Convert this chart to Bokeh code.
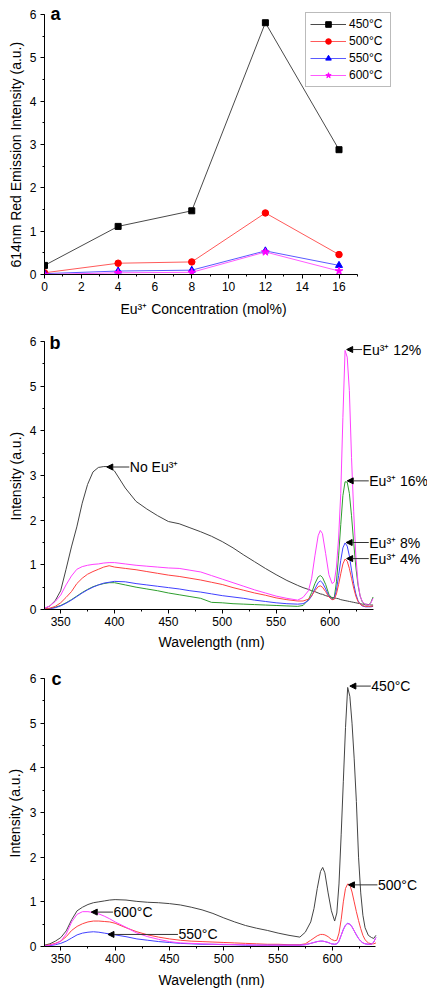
from bokeh.plotting import figure
from bokeh.layouts import column
from bokeh.models import (Range1d, SingleIntervalTicker, Legend, LegendItem,
                          Label, Arrow, NormalHead, Title)
from bokeh.embed import file_html
from bokeh.resources import INLINE

FONT = "Liberation Sans"

# ---------------- Panel a data ----------------
CONC = [0, 4, 8, 12, 16]
I450 = [0.21, 1.11, 1.47, 5.81, 2.88]
I500 = [0.04, 0.26, 0.29, 1.42, 0.46]
I550 = [0.02, 0.08, 0.10, 0.545, 0.21]
I600 = [0.00, 0.04, 0.05, 0.52, 0.08]
TEMPS = ["450°C", "500°C", "550°C", "600°C"]

# ---------------- Panel b / c shared wavelength grid ----------------
WL = [335, 340, 345, 350, 355, 360, 365, 370, 375, 380, 385, 390, 395, 400,
      410, 420, 430, 440, 450, 460, 470, 480, 490, 500, 510, 520, 530, 540,
      550, 560, 570, 575, 580, 583, 586, 589, 591, 593, 596, 599, 602, 604,
      606, 608, 610, 612, 614, 616, 618, 620, 622, 624, 626, 628, 630, 633,
      636, 638, 640]

# Panel b: Eu3+ concentration series
B_NO = [0.02, 0.08, 0.20, 0.42, 0.90, 1.40, 1.85, 2.38, 2.80, 3.08, 3.18, 3.20, 3.20, 3.10,
        2.72, 2.42, 2.25, 2.10, 1.97, 1.92, 1.83, 1.74, 1.64, 1.52, 1.38, 1.22, 1.07, 0.92,
        0.78, 0.65, 0.54, 0.49, 0.45, 0.42, 0.40, 0.37, 0.35, 0.34, 0.31, 0.29, 0.27, 0.26,
        0.25, 0.24, 0.22, 0.21, 0.20, 0.19, 0.18, 0.17, 0.16, 0.15, 0.14, 0.13, 0.12, 0.12,
        0.11, 0.10, 0.10]
B_12 = [0.03, 0.08, 0.18, 0.32, 0.55, 0.75, 0.90, 0.96, 0.99, 1.01, 1.02, 1.04, 1.05, 1.05,
        1.02, 0.99, 0.97, 0.95, 0.93, 0.92, 0.88, 0.84, 0.76, 0.68, 0.60, 0.52, 0.44, 0.37,
        0.30, 0.25, 0.21, 0.27, 0.42, 0.70, 1.20, 1.65, 1.77, 1.70, 1.25, 0.78, 0.58, 0.62,
        0.95, 1.60, 2.60, 4.30, 5.80, 5.65, 4.90, 3.40, 2.20, 1.20, 0.60, 0.30, 0.18, 0.11,
        0.10, 0.15, 0.25]
B_4 = [0.01, 0.03, 0.07, 0.15, 0.27, 0.40, 0.58, 0.70, 0.79, 0.85, 0.90, 0.95, 0.98, 0.95,
       0.92, 0.89, 0.85, 0.81, 0.77, 0.74, 0.70, 0.66, 0.61, 0.56, 0.49, 0.43, 0.37, 0.32,
       0.26, 0.22, 0.19, 0.19, 0.23, 0.31, 0.42, 0.51, 0.53, 0.50, 0.40, 0.28, 0.22, 0.23,
       0.35, 0.56, 0.80, 1.02, 1.13, 1.08, 0.92, 0.70, 0.48, 0.30, 0.18, 0.12, 0.09, 0.07,
       0.07, 0.07, 0.08]
B_8 = [0.01, 0.02, 0.04, 0.08, 0.14, 0.21, 0.29, 0.37, 0.44, 0.50, 0.55, 0.59, 0.61, 0.63,
       0.62, 0.58, 0.55, 0.52, 0.49, 0.46, 0.42, 0.39, 0.35, 0.31, 0.28, 0.25, 0.21, 0.18,
       0.15, 0.13, 0.12, 0.13, 0.20, 0.30, 0.46, 0.60, 0.64, 0.60, 0.46, 0.30, 0.22, 0.24,
       0.44, 0.76, 1.10, 1.38, 1.49, 1.42, 1.20, 0.88, 0.58, 0.35, 0.20, 0.12, 0.08, 0.06,
       0.06, 0.06, 0.07]
B_16 = [0.01, 0.02, 0.05, 0.09, 0.15, 0.22, 0.30, 0.38, 0.45, 0.51, 0.55, 0.58, 0.60, 0.60,
        0.55, 0.50, 0.46, 0.42, 0.37, 0.33, 0.29, 0.25, 0.16, 0.15, 0.13, 0.12, 0.11, 0.10,
        0.09, 0.08, 0.07, 0.09, 0.22, 0.38, 0.58, 0.73, 0.76, 0.72, 0.56, 0.34, 0.24, 0.27,
        0.62, 1.20, 1.90, 2.55, 2.86, 2.85, 2.60, 2.10, 1.50, 0.95, 0.55, 0.30, 0.17, 0.10,
        0.10, 0.16, 0.28]

# Panel c: annealing temperature series
C_450 = [0.03, 0.06, 0.12, 0.20, 0.35, 0.60, 0.80, 0.88, 0.94, 0.98, 1.00, 1.02, 1.04, 1.05,
         1.04, 1.01, 0.99, 0.98, 0.96, 0.93, 0.88, 0.82, 0.74, 0.64, 0.55, 0.47, 0.41, 0.36,
         0.30, 0.25, 0.21, 0.32, 0.55, 0.85, 1.30, 1.68, 1.77, 1.65, 1.20, 0.80, 0.57, 0.75,
         1.40, 2.50, 3.70, 4.90, 5.80, 5.60, 5.00, 4.20, 3.25, 2.00, 1.20, 0.70, 0.42, 0.25,
         0.20, 0.18, 0.25]
C_500 = [0.02, 0.04, 0.07, 0.12, 0.22, 0.36, 0.45, 0.51, 0.55, 0.57, 0.57, 0.56, 0.55, 0.52,
         0.42, 0.33, 0.26, 0.21, 0.17, 0.14, 0.12, 0.11, 0.10, 0.09, 0.08, 0.07, 0.06, 0.05,
         0.05, 0.04, 0.04, 0.06, 0.14, 0.19, 0.24, 0.27, 0.27, 0.26, 0.22, 0.16, 0.13, 0.14,
         0.30, 0.60, 1.00, 1.30, 1.40, 1.38, 1.22, 1.00, 0.78, 0.58, 0.40, 0.25, 0.15, 0.08,
         0.06, 0.06, 0.08]
C_550 = [0.01, 0.02, 0.04, 0.07, 0.12, 0.19, 0.26, 0.30, 0.32, 0.33, 0.32, 0.30, 0.28, 0.26,
         0.22, 0.17, 0.14, 0.11, 0.09, 0.07, 0.06, 0.05, 0.05, 0.04, 0.04, 0.03, 0.03, 0.03,
         0.03, 0.03, 0.03, 0.04, 0.07, 0.09, 0.11, 0.12, 0.12, 0.11, 0.09, 0.06, 0.05, 0.06,
         0.12, 0.25, 0.38, 0.48, 0.52, 0.50, 0.44, 0.35, 0.26, 0.18, 0.12, 0.08, 0.06, 0.05,
         0.05, 0.10, 0.20]
C_600 = [0.01, 0.03, 0.06, 0.12, 0.28, 0.55, 0.72, 0.78, 0.78, 0.76, 0.73, 0.68, 0.62, 0.55,
         0.43, 0.30, 0.22, 0.16, 0.11, 0.08, 0.07, 0.06, 0.05, 0.05, 0.04, 0.04, 0.03, 0.03,
         0.03, 0.03, 0.03, 0.04, 0.07, 0.09, 0.11, 0.12, 0.12, 0.11, 0.09, 0.06, 0.05, 0.06,
         0.12, 0.25, 0.38, 0.47, 0.51, 0.50, 0.44, 0.35, 0.26, 0.18, 0.12, 0.08, 0.06, 0.05,
         0.05, 0.10, 0.20]

# annotations: (text, arrow-head x, arrow-tail x, y)
ANN_B = [("No Eu³⁺", 392.8, 413.7, 3.19),
         ("Eu³⁺ 12%", 615.5, 629.8, 5.82),
         ("Eu³⁺ 16%", 616.0, 636.0, 2.88),
         ("Eu³⁺ 8%", 615.0, 636.0, 1.50),
         ("Eu³⁺ 4%", 615.5, 636.0, 1.14)]
ANN_C = [("450°C", 616.0, 635.3, 5.83),
         ("500°C", 614.7, 641.4, 1.38),
         ("600°C", 378.0, 398.0, 0.77),
         ("550°C", 393.4, 457.8, 0.27)]

W = 427


def make_fig(height, left, bottom, gap_top, xlo, xhi, px_per_unit):
    frame_h = height - bottom
    frame_w = W - left
    ymax = 6.0 * frame_h / (frame_h - gap_top)
    xmax = xlo + frame_w / px_per_unit
    p = figure(width=W, height=height, x_range=Range1d(xlo, xmax),
               y_range=Range1d(0, ymax), output_backend="svg", toolbar_location=None,
               min_border_left=left, min_border_right=0, min_border_top=0,
               min_border_bottom=bottom)
    p.xaxis.bounds = (xlo, xhi)
    p.yaxis.bounds = (0, 6)
    return p


def style(p, xint, yint):
    p.xgrid.visible = False
    p.ygrid.visible = False
    p.outline_line_color = None
    p.background_fill_color = "white"
    p.border_fill_color = "white"
    p.xaxis.ticker = SingleIntervalTicker(interval=xint, num_minor_ticks=2)
    p.yaxis.ticker = SingleIntervalTicker(interval=yint, num_minor_ticks=2)
    for ax in (p.xaxis[0], p.yaxis[0]):
        ax.axis_line_color = "black"
        ax.axis_line_width = 1
        ax.major_tick_line_color = "black"
        ax.minor_tick_line_color = "black"
        ax.major_tick_out = 4
        ax.major_tick_in = 0
        ax.minor_tick_out = 2
        ax.minor_tick_in = 0
        ax.major_label_text_font = FONT
        ax.major_label_text_font_size = "12px"
        ax.major_label_text_color = "black"
    p.xaxis[0].major_label_standoff = 3
    p.yaxis[0].major_label_standoff = 4


def axis_titles(p, xlabel, xoff, xstand, ylabel, yoff, ystand):
    p.add_layout(Title(text=xlabel, align="left", offset=xoff, standoff=xstand,
                       text_font=FONT, text_font_size="14px", text_font_style="normal",
                       text_color="black"), "below")
    p.add_layout(Title(text=ylabel, align="left", offset=yoff, standoff=ystand,
                       text_font=FONT, text_font_size="14px", text_font_style="normal",
                       text_color="black"), "left")


def panel_letter(p, x, y, t):
    p.add_layout(Label(x=x, y=y, text=t, text_font=FONT, text_font_style="bold",
                       text_font_size="18px", text_color="black",
                       text_baseline="alphabetic", text_align="left"))


def annotate(p, items):
    for text, xh, xt, y in items:
        p.add_layout(Arrow(end=NormalHead(size=6, fill_color="black", line_color="black",
                                          line_width=1),
                           x_start=xt, y_start=y, x_end=xh, y_end=y,
                           line_color="#333333", line_width=1))
        p.add_layout(Label(x=xt, y=y, text=text, text_font=FONT, text_font_size="14px",
                           text_color="black", text_baseline="middle", text_align="left",
                           x_offset=0.5))


# ---------------- Panel a ----------------
pa = make_fig(325, 39, 51, 14, 0, 17, 317 / 17)
style(pa, 2, 1)
axis_titles(pa, "Eu³⁺ Concentration (mol%)", 76, 11,
            "614nm Red Emission Intensity (a.u.)", 7, 5)

series_a = [(I450, "#4a4a4a", "black", "square", 6),
            (I500, "#ff5a5a", "red", "circle", 6.5),
            (I550, "#5a5aff", "blue", "triangle", 7),
            (I600, "#ff5aff", "magenta", "star", 8)]
items = []
for (vals, lc, mc, mk, sz), t in zip(series_a, TEMPS):
    rl = pa.line(CONC, vals, line_color=lc, line_width=1)
    rm = pa.scatter(CONC, vals, marker=mk, size=sz, fill_color=mc, line_color=mc)
    items.append(LegendItem(label=t, renderers=[rl, rm]))
leg = Legend(items=items, location=(261, 187), orientation="vertical",
             border_line_color="#777777", border_line_width=1,
             background_fill_color="white", background_fill_alpha=1,
             padding=4, spacing=3, margin=0,
             glyph_width=36, glyph_height=14, label_height=14, label_width=37,
             label_standoff=3, label_text_font=FONT, label_text_font_size="12px",
             label_text_color="black")
pa.add_layout(leg)
panel_letter(pa, 0.32, 6.02, "a")

# ---------------- Panel b ----------------
pb = make_fig(330, 40, 46, 16, 335, 640, 332 / 305)
style(pb, 50, 1)
axis_titles(pb, "Wavelength (nm)", 114, 6, "Intensity (a.u.)", 89, 6)
for vals, col in [(B_NO, "#444444"), (B_16, "#2e9e2e"), (B_8, "#4040ff"),
                  (B_4, "#ff4040"), (B_12, "#ff40ff")]:
    pb.line(WL, vals, line_color=col, line_width=1)
annotate(pb, ANN_B)
panel_letter(pb, 339.6, 5.96, "b")

# ---------------- Panel c ----------------
pc = make_fig(337, 43, 46, 23, 335, 640, 332.3 / 305)
style(pc, 50, 1)
axis_titles(pc, "Wavelength (nm)", 114, 9, "Intensity (a.u.)", 89, 8)
for vals, col in [(C_450, "#444444"), (C_500, "#ff4040"), (C_550, "#4040ff"),
                  (C_600, "#ff40ff")]:
    pc.line(WL, vals, line_color=col, line_width=1)
annotate(pc, ANN_C)
panel_letter(pc, 341.4, 5.98, "c")

layout = column(pa, pb, pc, spacing=0)
open("out.html", "w").write(file_html(layout, INLINE))
